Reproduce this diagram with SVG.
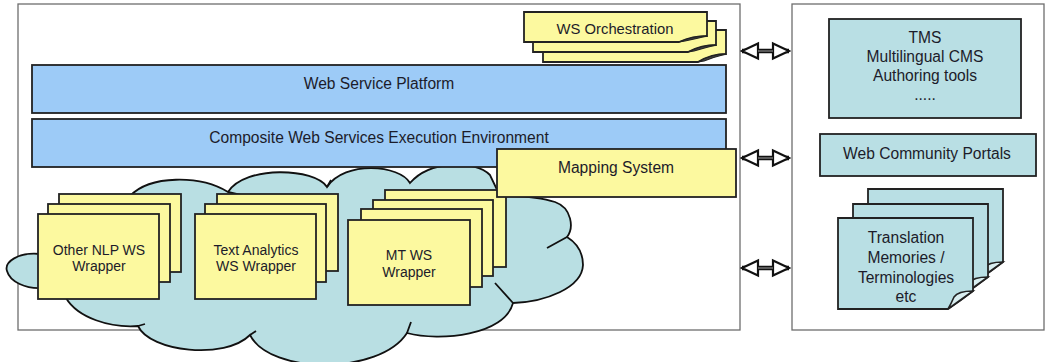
<svg xmlns="http://www.w3.org/2000/svg" width="1048" height="362" viewBox="0 0 1048 362">
<style>
  .frame { fill: #ffffff; stroke: #6e6e6e; stroke-width: 1.3; }
  .bar { fill: #9dcbf7; stroke: #222; stroke-width: 1.8; }
  .yel { fill: #fcf99f; stroke: #222; stroke-width: 1.8; }
  .teal { fill: #b9dfe4; stroke: #222; stroke-width: 1.8; }
  .cloud { fill: #b9dfe3; stroke: #111; stroke-width: 1.8; }
  .tail { fill: none; stroke: #111; stroke-width: 1.8; }
  .curl { fill: #444; stroke: #222; stroke-width: 1.2; }
  .flap { fill: #d9eef0; stroke: #222; stroke-width: 1.6; }
  text { font-family: "Liberation Sans", Arial, sans-serif; fill: #1c1c2a; text-anchor: middle; }
  .t16 { font-size: 15.6px; }
  .t15 { font-size: 14.8px; }
  .t14 { font-size: 14px; }
  .shaft { stroke: #111; stroke-width: 4.5; }
  .shaftin { stroke: #8a8a8a; stroke-width: 1.2; }
</style>
<defs>
  <marker id="hollow" viewBox="0 0 20 20" markerWidth="20" markerHeight="20" refX="18" refY="10" orient="auto-start-reverse" markerUnits="userSpaceOnUse">
    <path d="M2,2.5 L18,10 L2,17.5 Z" fill="#fff" stroke="#111" stroke-width="2.2" stroke-linejoin="miter"/>
  </marker>
</defs>

<g id="frames">
  <rect class="frame" x="18" y="4" width="722" height="326"/>
  <rect class="frame" x="792" y="4" width="252" height="326"/>
</g>

<g id="cloud">
  <path class="cloud" d="M40,254 C18,252 4,262 7,271 C10,282 26,289 42,288 L66,298 C78,318 110,328 138,326 C150,352 225,360 250,335 C270,375 380,375 407,333 C440,342 505,335 513,303 C545,302 582,288 583,265 C583,250 575,242 567,237 C574,228 572,208 555,202 C540,197 520,196 500,196 L490,175 C475,160 430,160 410,183 C400,165 345,160 327,187 C315,168 245,165 228,192 C200,175 150,175 130,196 Z"/>
  <path class="tail" d="M407,333 L411,322 M513,303 L495,283 M567,237 L547,248 M327,187 L331,180 M228,192 L245,196 M138,326 L145,324 M250,335 L256,331"/>
</g>

<g id="other-nlp-wrapper">
  <rect class="yel" x="59" y="194" width="122" height="78"/>
  <rect class="yel" x="48" y="204" width="122" height="78"/>
  <rect class="yel" x="38" y="214" width="121" height="85"/>
  <text class="t14" x="99" y="255">Other NLP WS</text>
  <text class="t14" x="99" y="271">Wrapper</text>
</g>

<g id="text-analytics-wrapper">
  <rect class="yel" x="217" y="194" width="121" height="77"/>
  <rect class="yel" x="205" y="204" width="121" height="78"/>
  <rect class="yel" x="195" y="214" width="121" height="85"/>
  <text class="t14" x="256" y="255">Text Analytics</text>
  <text class="t14" x="256" y="271">WS Wrapper</text>
</g>

<g id="mt-wrapper">
  <rect class="yel" x="385" y="190" width="121" height="77"/>
  <rect class="yel" x="373" y="200" width="120" height="76"/>
  <rect class="yel" x="361" y="209" width="121" height="78"/>
  <rect class="yel" x="348" y="220" width="122" height="85"/>
  <text class="t14" x="409" y="260">MT WS</text>
  <text class="t14" x="409" y="277">Wrapper</text>
</g>

<g id="web-service-platform">
  <rect class="bar" x="32" y="65" width="694" height="48"/>
  <text class="t16" x="379" y="89">Web Service Platform</text>
</g>

<g id="composite-ws-env">
  <rect class="bar" x="32" y="119" width="694" height="48"/>
  <text class="t16" x="379" y="143">Composite Web Services Execution Environment</text>
</g>

<g id="mapping-system">
  <rect class="yel" x="497" y="149" width="239" height="48"/>
  <text class="t16" x="616" y="173">Mapping System</text>
</g>

<g id="ws-orchestration">
  <path class="yel" d="M543,30 H726 V54 Q712,54 698,62 H543 Z"/>
  <path class="curl" d="M698,62 Q712,54 726,54 Q714,57 704,61 Z"/>
  <path class="yel" d="M533,21 H716 V45 Q702,45 688,52 H533 Z"/>
  <path class="curl" d="M688,52 Q702,45 716,45 Q704,48 694,51 Z"/>
  <path class="yel" d="M524,12 H707 V36 Q693,36 679,42 H524 Z"/>
  <path class="curl" d="M679,42 Q693,36 707,36 Q695,39 685,41 Z"/>
  <text class="t15" x="615" y="34">WS Orchestration</text>
</g>

<g id="tms">
  <rect class="teal" x="829" y="19" width="192" height="99"/>
  <text class="t16" x="925" y="43">TMS</text>
  <text class="t16" x="925" y="62">Multilingual CMS</text>
  <text class="t16" x="925" y="81">Authoring tools</text>
  <text class="t16" x="925" y="100">.....</text>
</g>

<g id="web-community-portals">
  <rect class="teal" x="820" y="134" width="216" height="42"/>
  <text class="t16" x="927" y="159">Web Community Portals</text>
</g>

<g id="translation-memories">
  <path class="teal" d="M868,189 H1003 V262 Q990,272 978,280 H868 Z"/>
  <path class="flap" d="M1003,262 Q988,262 984,268 Q981,275 978,280 Z"/>
  <path class="teal" d="M853,204 H988 V277 Q975,287 963,295 H853 Z"/>
  <path class="flap" d="M988,277 Q973,277 969,283 Q966,290 963,295 Z"/>
  <path class="teal" d="M838,218 H973 V291 Q960,301 948,309 H838 Z"/>
  <path class="flap" d="M973,291 Q958,291 954,297 Q951,304 948,309 Z"/>
  <text class="t16" x="906" y="243">Translation</text>
  <text class="t16" x="906" y="263">Memories /</text>
  <text class="t16" x="906" y="283">Terminologies</text>
  <text class="t16" x="906" y="302">etc</text>
</g>

<g id="connectors">
  <line class="shaft" x1="742" y1="51" x2="789" y2="51" marker-start="url(#hollow)" marker-end="url(#hollow)"/>
  <line class="shaftin" x1="758" y1="51" x2="773" y2="51"/>
  <line class="shaft" x1="742" y1="158" x2="789" y2="158" marker-start="url(#hollow)" marker-end="url(#hollow)"/>
  <line class="shaftin" x1="758" y1="158" x2="773" y2="158"/>
  <line class="shaft" x1="742" y1="268" x2="789" y2="268" marker-start="url(#hollow)" marker-end="url(#hollow)"/>
  <line class="shaftin" x1="758" y1="268" x2="773" y2="268"/>
</g>
</svg>
